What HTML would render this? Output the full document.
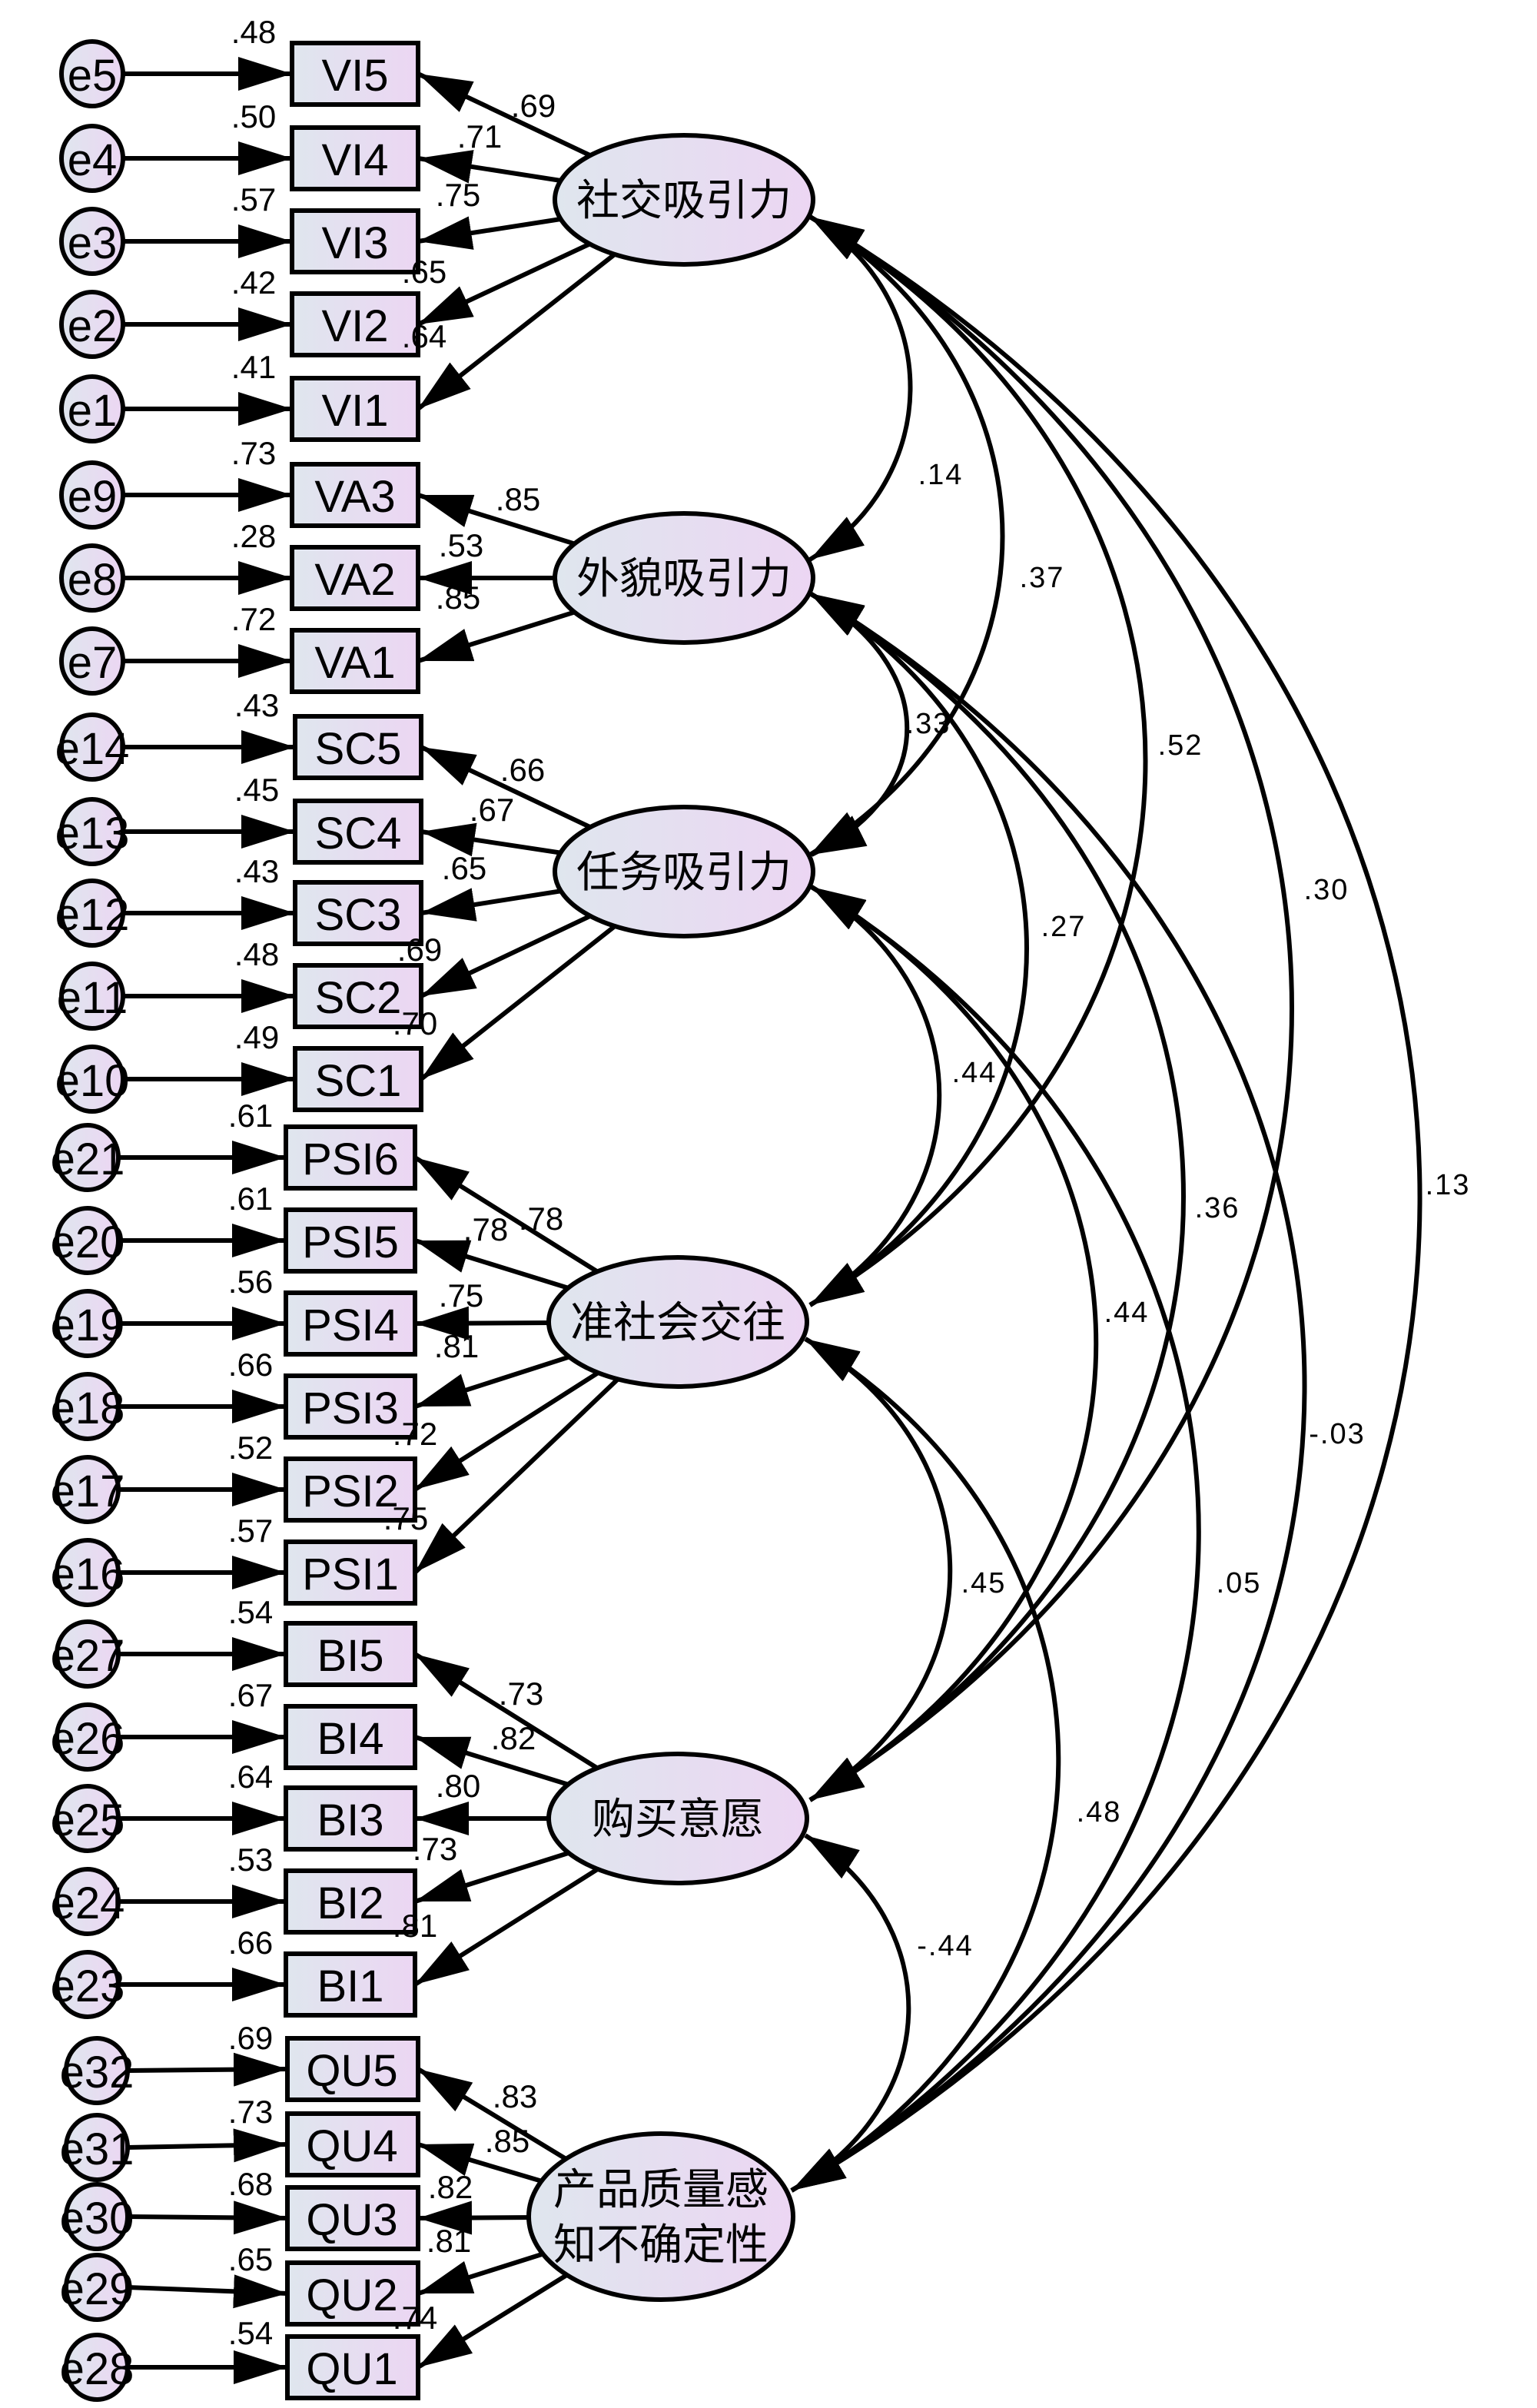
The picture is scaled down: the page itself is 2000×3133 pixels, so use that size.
<!DOCTYPE html>
<html><head><meta charset="utf-8"><style>
html,body{margin:0;padding:0;background:#fff}
svg{display:block}
text{font-family:"Liberation Sans","Noto Sans CJK SC",sans-serif;fill:#000}
.b{font-size:29px;text-anchor:middle}
.e{font-size:29px;text-anchor:middle}
.v{font-size:21px;text-anchor:middle}
.c{font-size:19px;text-anchor:middle;letter-spacing:1px}
.z{font-size:28px;text-anchor:middle}
</style></head><body>
<svg width="2000" height="3133" viewBox="0 0 1000 1566.5" xmlns="http://www.w3.org/2000/svg">
<defs>
<linearGradient id="g" x1="0" y1="0" x2="1" y2="0"><stop offset="0" stop-color="#dfe6ee"/><stop offset="1" stop-color="#ecd6f3"/></linearGradient>
<marker id="a" markerUnits="userSpaceOnUse" markerWidth="36" markerHeight="22" refX="35" refY="11" orient="auto-start-reverse"><path d="M0,0 L35,11 L0,22z" fill="#000"/></marker>
</defs>
<g fill="none" stroke="#000" stroke-width="3" marker-start="url(#a)" marker-end="url(#a)">
<path d="M527,141 C614,194 614,310 527,364"/>
<path d="M527,141 C694,244 694,454 527,556"/>
<path d="M527,141 C818,316 818,674 527,849"/>
<path d="M527,141 C945,397 945,915 527,1171"/>
<path d="M527,141 C1058,457 1058,1109 515,1425"/>
<path d="M527,386 C611,434 611,515 528,556"/>
<path d="M527,386 C715,498 715,736 527,849"/>
<path d="M527,386 C851,581 851,976 527,1171"/>
<path d="M527,386 C958,645 958,1166 515,1425"/>
<path d="M528,577 C639,643 639,782 527,849"/>
<path d="M528,577 C775,725 775,1024 527,1171"/>
<path d="M528,577 C866,784 866,1218 515,1425"/>
<path d="M524,871 C649,944 649,1098 527,1171"/>
<path d="M524,871 C745,1005 745,1291 515,1425"/>
<path d="M524,1194 C615,1252 615,1367 515,1425"/>
</g>
<g fill="none" stroke="#000" stroke-width="3" marker-end="url(#a)">
<line x1="445" y1="130" x2="272" y2="48"/>
<line x1="445" y1="130" x2="272" y2="103"/>
<line x1="445" y1="130" x2="272" y2="157"/>
<line x1="445" y1="130" x2="272" y2="211"/>
<line x1="445" y1="130" x2="272" y2="266"/>
<line x1="445" y1="376" x2="272" y2="322"/>
<line x1="445" y1="376" x2="272" y2="376"/>
<line x1="445" y1="376" x2="272" y2="430"/>
<line x1="445" y1="567" x2="274" y2="486"/>
<line x1="445" y1="567" x2="274" y2="541"/>
<line x1="445" y1="567" x2="274" y2="594"/>
<line x1="445" y1="567" x2="274" y2="648"/>
<line x1="445" y1="567" x2="274" y2="702"/>
<line x1="441" y1="860" x2="270" y2="753"/>
<line x1="441" y1="860" x2="270" y2="807"/>
<line x1="441" y1="860" x2="270" y2="861"/>
<line x1="441" y1="860" x2="270" y2="915"/>
<line x1="441" y1="860" x2="270" y2="969"/>
<line x1="441" y1="860" x2="270" y2="1023"/>
<line x1="441" y1="1183" x2="270" y2="1076"/>
<line x1="441" y1="1183" x2="270" y2="1130"/>
<line x1="441" y1="1183" x2="270" y2="1183"/>
<line x1="441" y1="1183" x2="270" y2="1237"/>
<line x1="441" y1="1183" x2="270" y2="1291"/>
<line x1="430" y1="1442" x2="272" y2="1346"/>
<line x1="430" y1="1442" x2="272" y2="1395"/>
<line x1="430" y1="1442" x2="272" y2="1443"/>
<line x1="430" y1="1442" x2="272" y2="1492"/>
<line x1="430" y1="1442" x2="272" y2="1540"/>
<line x1="80" y1="48" x2="190" y2="48"/>
<line x1="80" y1="103" x2="190" y2="103"/>
<line x1="80" y1="157" x2="190" y2="157"/>
<line x1="80" y1="211" x2="190" y2="211"/>
<line x1="80" y1="266" x2="190" y2="266"/>
<line x1="80" y1="322" x2="190" y2="322"/>
<line x1="80" y1="376" x2="190" y2="376"/>
<line x1="80" y1="430" x2="190" y2="430"/>
<line x1="80" y1="486" x2="192" y2="486"/>
<line x1="80" y1="541" x2="192" y2="541"/>
<line x1="80" y1="594" x2="192" y2="594"/>
<line x1="80" y1="648" x2="192" y2="648"/>
<line x1="80" y1="702" x2="192" y2="702"/>
<line x1="78" y1="753" x2="186" y2="753"/>
<line x1="78" y1="807" x2="186" y2="807"/>
<line x1="78" y1="861" x2="186" y2="861"/>
<line x1="78" y1="915" x2="186" y2="915"/>
<line x1="78" y1="969" x2="186" y2="969"/>
<line x1="78" y1="1023" x2="186" y2="1023"/>
<line x1="78" y1="1076" x2="186" y2="1076"/>
<line x1="78" y1="1130" x2="186" y2="1130"/>
<line x1="78" y1="1183" x2="186" y2="1183"/>
<line x1="78" y1="1237" x2="186" y2="1237"/>
<line x1="78" y1="1291" x2="186" y2="1291"/>
<line x1="83" y1="1347" x2="187" y2="1346"/>
<line x1="83" y1="1397" x2="187" y2="1395"/>
<line x1="83" y1="1442" x2="187" y2="1443"/>
<line x1="83" y1="1488" x2="187" y2="1492"/>
<line x1="83" y1="1540" x2="187" y2="1540"/>
</g>
<g fill="url(#g)" stroke="#000" stroke-width="3">
<ellipse cx="445" cy="130" rx="84" ry="42"/>
<ellipse cx="445" cy="376" rx="84" ry="42"/>
<ellipse cx="445" cy="567" rx="84" ry="42"/>
<ellipse cx="441" cy="860" rx="84" ry="42"/>
<ellipse cx="441" cy="1183" rx="84" ry="42"/>
<ellipse cx="430" cy="1442" rx="86" ry="54"/>
<rect x="190" y="28" width="82" height="40"/>
<rect x="190" y="83" width="82" height="40"/>
<rect x="190" y="137" width="82" height="40"/>
<rect x="190" y="191" width="82" height="40"/>
<rect x="190" y="246" width="82" height="40"/>
<rect x="190" y="302" width="82" height="40"/>
<rect x="190" y="356" width="82" height="40"/>
<rect x="190" y="410" width="82" height="40"/>
<rect x="192" y="466" width="82" height="40"/>
<rect x="192" y="521" width="82" height="40"/>
<rect x="192" y="574" width="82" height="40"/>
<rect x="192" y="628" width="82" height="40"/>
<rect x="192" y="682" width="82" height="40"/>
<rect x="186" y="733" width="84" height="40"/>
<rect x="186" y="787" width="84" height="40"/>
<rect x="186" y="841" width="84" height="40"/>
<rect x="186" y="895" width="84" height="40"/>
<rect x="186" y="949" width="84" height="40"/>
<rect x="186" y="1003" width="84" height="40"/>
<rect x="186" y="1056" width="84" height="40"/>
<rect x="186" y="1110" width="84" height="40"/>
<rect x="186" y="1163" width="84" height="40"/>
<rect x="186" y="1217" width="84" height="40"/>
<rect x="186" y="1271" width="84" height="40"/>
<rect x="187" y="1326" width="85" height="40"/>
<rect x="187" y="1375" width="85" height="40"/>
<rect x="187" y="1423" width="85" height="40"/>
<rect x="187" y="1472" width="85" height="40"/>
<rect x="187" y="1520" width="85" height="40"/>
<ellipse cx="60" cy="48" rx="20" ry="21"/>
<ellipse cx="60" cy="103" rx="20" ry="21"/>
<ellipse cx="60" cy="157" rx="20" ry="21"/>
<ellipse cx="60" cy="211" rx="20" ry="21"/>
<ellipse cx="60" cy="266" rx="20" ry="21"/>
<ellipse cx="60" cy="322" rx="20" ry="21"/>
<ellipse cx="60" cy="376" rx="20" ry="21"/>
<ellipse cx="60" cy="430" rx="20" ry="21"/>
<ellipse cx="60" cy="486" rx="20" ry="21"/>
<ellipse cx="60" cy="541" rx="20" ry="21"/>
<ellipse cx="60" cy="594" rx="20" ry="21"/>
<ellipse cx="60" cy="648" rx="20" ry="21"/>
<ellipse cx="60" cy="702" rx="20" ry="21"/>
<ellipse cx="57" cy="753" rx="20" ry="21"/>
<ellipse cx="57" cy="807" rx="20" ry="21"/>
<ellipse cx="57" cy="861" rx="20" ry="21"/>
<ellipse cx="57" cy="915" rx="20" ry="21"/>
<ellipse cx="57" cy="969" rx="20" ry="21"/>
<ellipse cx="57" cy="1023" rx="20" ry="21"/>
<ellipse cx="57" cy="1076" rx="20" ry="21"/>
<ellipse cx="57" cy="1130" rx="20" ry="21"/>
<ellipse cx="57" cy="1183" rx="20" ry="21"/>
<ellipse cx="57" cy="1237" rx="20" ry="21"/>
<ellipse cx="57" cy="1291" rx="20" ry="21"/>
<ellipse cx="63" cy="1347" rx="20" ry="21"/>
<ellipse cx="63" cy="1397" rx="20" ry="21"/>
<ellipse cx="63" cy="1442" rx="20" ry="21"/>
<ellipse cx="63" cy="1488" rx="20" ry="21"/>
<ellipse cx="63" cy="1540" rx="20" ry="21"/>
</g>
<g class="b">
<text class="b" x="231" y="59">VI5</text>
<text class="b" x="231" y="114">VI4</text>
<text class="b" x="231" y="168">VI3</text>
<text class="b" x="231" y="222">VI2</text>
<text class="b" x="231" y="277">VI1</text>
<text class="b" x="231" y="333">VA3</text>
<text class="b" x="231" y="387">VA2</text>
<text class="b" x="231" y="441">VA1</text>
<text class="b" x="233" y="497">SC5</text>
<text class="b" x="233" y="552">SC4</text>
<text class="b" x="233" y="605">SC3</text>
<text class="b" x="233" y="659">SC2</text>
<text class="b" x="233" y="713">SC1</text>
<text class="b" x="228" y="764">PSI6</text>
<text class="b" x="228" y="818">PSI5</text>
<text class="b" x="228" y="872">PSI4</text>
<text class="b" x="228" y="926">PSI3</text>
<text class="b" x="228" y="980">PSI2</text>
<text class="b" x="228" y="1034">PSI1</text>
<text class="b" x="228" y="1087">BI5</text>
<text class="b" x="228" y="1141">BI4</text>
<text class="b" x="228" y="1194">BI3</text>
<text class="b" x="228" y="1248">BI2</text>
<text class="b" x="228" y="1302">BI1</text>
<text class="b" x="229" y="1357">QU5</text>
<text class="b" x="229" y="1406">QU4</text>
<text class="b" x="229" y="1454">QU3</text>
<text class="b" x="229" y="1503">QU2</text>
<text class="b" x="229" y="1551">QU1</text>
</g>
<g>
<text class="e" x="60" y="59">e5</text>
<text class="e" x="60" y="114">e4</text>
<text class="e" x="60" y="168">e3</text>
<text class="e" x="60" y="222">e2</text>
<text class="e" x="60" y="277">e1</text>
<text class="e" x="60" y="333">e9</text>
<text class="e" x="60" y="387">e8</text>
<text class="e" x="60" y="441">e7</text>
<text class="e" x="60" y="497">e14</text>
<text class="e" x="60" y="552">e13</text>
<text class="e" x="60" y="605">e12</text>
<text class="e" x="60" y="659">e11</text>
<text class="e" x="60" y="713">e10</text>
<text class="e" x="57" y="764">e21</text>
<text class="e" x="57" y="818">e20</text>
<text class="e" x="57" y="872">e19</text>
<text class="e" x="57" y="926">e18</text>
<text class="e" x="57" y="980">e17</text>
<text class="e" x="57" y="1034">e16</text>
<text class="e" x="57" y="1087">e27</text>
<text class="e" x="57" y="1141">e26</text>
<text class="e" x="57" y="1194">e25</text>
<text class="e" x="57" y="1248">e24</text>
<text class="e" x="57" y="1302">e23</text>
<text class="e" x="63" y="1358">e32</text>
<text class="e" x="63" y="1408">e31</text>
<text class="e" x="63" y="1453">e30</text>
<text class="e" x="63" y="1499">e29</text>
<text class="e" x="63" y="1551">e28</text>
</g>
<g>
<text class="v" x="165" y="28">.48</text>
<text class="v" x="165" y="83">.50</text>
<text class="v" x="165" y="137">.57</text>
<text class="v" x="165" y="191">.42</text>
<text class="v" x="165" y="246">.41</text>
<text class="v" x="165" y="302">.73</text>
<text class="v" x="165" y="356">.28</text>
<text class="v" x="165" y="410">.72</text>
<text class="v" x="167" y="466">.43</text>
<text class="v" x="167" y="521">.45</text>
<text class="v" x="167" y="574">.43</text>
<text class="v" x="167" y="628">.48</text>
<text class="v" x="167" y="682">.49</text>
<text class="v" x="163" y="733">.61</text>
<text class="v" x="163" y="787">.61</text>
<text class="v" x="163" y="841">.56</text>
<text class="v" x="163" y="895">.66</text>
<text class="v" x="163" y="949">.52</text>
<text class="v" x="163" y="1003">.57</text>
<text class="v" x="163" y="1056">.54</text>
<text class="v" x="163" y="1110">.67</text>
<text class="v" x="163" y="1163">.64</text>
<text class="v" x="163" y="1217">.53</text>
<text class="v" x="163" y="1271">.66</text>
<text class="v" x="163" y="1333">.69</text>
<text class="v" x="163" y="1381">.73</text>
<text class="v" x="163" y="1428">.68</text>
<text class="v" x="163" y="1477">.65</text>
<text class="v" x="163" y="1525">.54</text>
<text class="v" x="347" y="76">.69</text>
<text class="v" x="312" y="96">.71</text>
<text class="v" x="298" y="134">.75</text>
<text class="v" x="276" y="184">.65</text>
<text class="v" x="276" y="226">.64</text>
<text class="v" x="337" y="332">.85</text>
<text class="v" x="300" y="362">.53</text>
<text class="v" x="298" y="396">.85</text>
<text class="v" x="340" y="508">.66</text>
<text class="v" x="320" y="534">.67</text>
<text class="v" x="302" y="572">.65</text>
<text class="v" x="273" y="625">.69</text>
<text class="v" x="270" y="673">.70</text>
<text class="v" x="352" y="800">.78</text>
<text class="v" x="316" y="807">.78</text>
<text class="v" x="300" y="850">.75</text>
<text class="v" x="297" y="883">.81</text>
<text class="v" x="270" y="940">.72</text>
<text class="v" x="264" y="995">.75</text>
<text class="v" x="339" y="1109">.73</text>
<text class="v" x="334" y="1138">.82</text>
<text class="v" x="298" y="1169">.80</text>
<text class="v" x="283" y="1210">.73</text>
<text class="v" x="270" y="1260">.81</text>
<text class="v" x="335" y="1371">.83</text>
<text class="v" x="330" y="1400">.85</text>
<text class="v" x="293" y="1430">.82</text>
<text class="v" x="292" y="1465">.81</text>
<text class="v" x="270" y="1515">.74</text>
</g>
<g>
<text class="c" x="612" y="315">.14</text>
<text class="c" x="678" y="382">.37</text>
<text class="c" x="768" y="491">.52</text>
<text class="c" x="863" y="585">.30</text>
<text class="c" x="942" y="777">.13</text>
<text class="c" x="604" y="477">.33</text>
<text class="c" x="692" y="609">.27</text>
<text class="c" x="792" y="792">.36</text>
<text class="c" x="870" y="939">-.03</text>
<text class="c" x="634" y="704">.44</text>
<text class="c" x="733" y="860">.44</text>
<text class="c" x="806" y="1036">.05</text>
<text class="c" x="640" y="1036">.45</text>
<text class="c" x="715" y="1185">.48</text>
<text class="c" x="615" y="1272">-.44</text>
</g>
<g>
<text class="z" x="445" y="140">社交吸引力</text>
<text class="z" x="445" y="386">外貌吸引力</text>
<text class="z" x="445" y="577">任务吸引力</text>
<text class="z" x="441" y="870">准社会交往</text>
<text class="z" x="441" y="1193">购买意愿</text>
<text class="z" x="430" y="1434">产品质量感</text>
<text class="z" x="430" y="1470">知不确定性</text>
</g>
</svg>
</body></html>
